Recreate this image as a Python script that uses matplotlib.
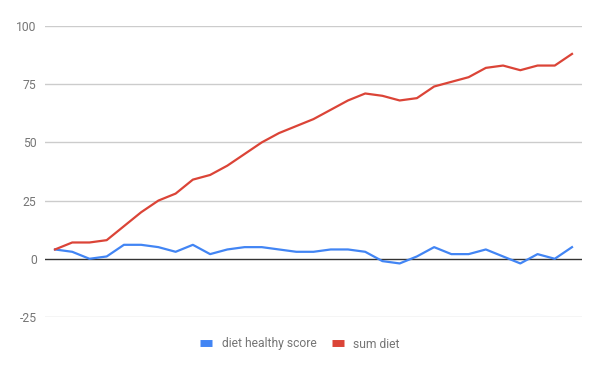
import matplotlib
matplotlib.use("Agg")
import matplotlib.pyplot as plt
from matplotlib.lines import Line2D

# values, one point per day
healthy_score = [4, 3, 0, 1, 6, 6, 5, 3, 6, 2, 4, 5, 5, 4, 3, 3,
                 4, 4, 3, -1, -2, 1, 5, 2, 2, 4, 1, -2, 2, 0, 5]
sum_diet = [4, 7, 7, 8, 14, 20, 25, 28, 34, 36, 40, 45, 50, 54, 57, 60,
            64, 68, 71, 70, 68, 69, 74, 76, 78, 82, 83, 81, 83, 83, 88]
y_ticks = [-25, 0, 25, 50, 75, 100]
labels = ["diet healthy score", "sum diet"]

blue = "#4285F4"
red = "#DB4437"
gray = "#757575"

plt.rcParams['font.family'] = ['Roboto', 'DejaVu Sans']
plt.rcParams['axes.unicode_minus'] = False

fig = plt.figure(figsize=(6, 3.71), dpi=100, facecolor='white')
ax = fig.add_axes([0.075, 0.1456, 0.895, 0.7844])

x = list(range(len(sum_diet)))
ax.plot(x, healthy_score, color=blue, lw=1.6, zorder=3)
ax.plot(x, sum_diet, color=red, lw=1.6, zorder=3)

ax.set_xlim(-0.58, len(x) - 1 + 0.58)
ax.set_ylim(-25, 100)
ax.set_yticks(y_ticks)
ax.set_xticks([])
for t in y_ticks:
    if t == 0:
        ax.axhline(t, color='#333333', lw=1, zorder=2)
    else:
        ax.axhline(t, color='#cccccc', lw=1, zorder=1)

for s in ax.spines.values():
    s.set_visible(False)
ax.tick_params(axis='y', length=0, pad=6, labelsize=8.7, labelcolor=gray)

handles = [Line2D([], [], color=blue, lw=5, solid_capstyle='butt'),
           Line2D([], [], color=red, lw=5, solid_capstyle='butt')]
fig.legend(handles, labels, loc='center', bbox_to_anchor=(0.5, 1 - 344 / 371),
           ncol=2, frameon=False, fontsize=8.7, labelcolor=gray,
           handlelength=1.0, handletextpad=0.75, columnspacing=1.3)

fig.savefig("out.png", dpi=100, facecolor='white')
